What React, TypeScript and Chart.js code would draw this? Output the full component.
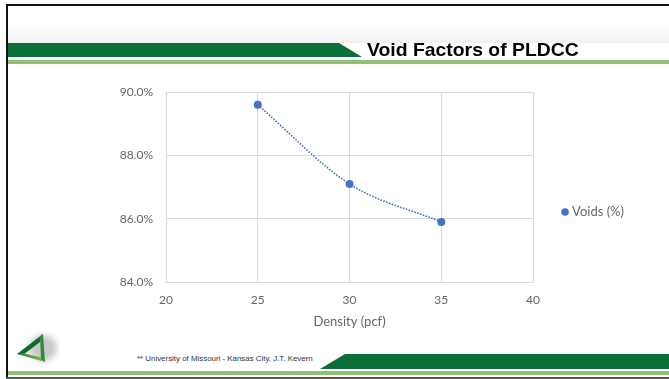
import React, { useEffect, useRef } from 'react';
import { Chart, registerables } from 'chart.js';

Chart.register(...registerables);

// ---- data ----
const densities = [25, 30, 35];
const voidsPct = [89.6, 87.1, 85.9];
const seriesLabel = 'Voids (%)';
const xTickValues = [20, 25, 30, 35, 40];
const yTickValues = [84, 86, 88, 90];
const slideTitle = 'Void Factors of PLDCC';
const xAxisTitle = 'Density (pcf)';
const footerText = '** University of Missouri - Kansas City, J.T. Kevern';

const BLUE = '#4472C4';
const GREY_TEXT = '#666666';
const GRID = '#d9d9d9';
const DARK_GREEN = '#0b6f3a';
const LIGHT_GREEN = '#93bf74';
const FONT = 'Lato, "Open Sans", sans-serif';

function ChartCanvas() {
  const ref = useRef<HTMLCanvasElement | null>(null);
  useEffect(() => {
    if (!ref.current) return;
    const chart = new Chart(ref.current, {
      type: 'scatter',
      data: {
        datasets: [
          {
            label: seriesLabel,
            data: densities.map((x, i) => ({ x, y: voidsPct[i] })),
            showLine: true,
            cubicInterpolationMode: 'monotone',
            borderColor: BLUE,
            borderWidth: 1.6,
            borderDash: [1.6, 1.4],
            backgroundColor: BLUE,
            pointRadius: 4,
            pointHoverRadius: 4,
            pointBackgroundColor: BLUE,
            pointBorderColor: BLUE,
            pointBorderWidth: 0,
          } as any,
        ],
      },
      options: {
        animation: false,
        responsive: false,
        maintainAspectRatio: false,
        layout: { padding: { top: 18, right: 35, bottom: 0, left: 0 } },
        plugins: {
          legend: {
            position: 'right',
            align: 'center',
            labels: {
              usePointStyle: true,
              pointStyle: 'circle',
              boxWidth: 1,
              boxHeight: 5.3,
              padding: 31.5,
              color: GREY_TEXT,
              font: { family: FONT, size: 13 },
              generateLabels: (c: any) =>
                (Chart.defaults.plugins.legend.labels as any)
                  .generateLabels(c)
                  .map((l: any) => ({ ...l, lineWidth: 0, lineDash: [], pointStyle: 'circle', fillStyle: BLUE })),
            },
          },
          tooltip: { enabled: false },
        },
        scales: {
          x: {
            type: 'linear',
            min: xTickValues[0],
            max: xTickValues[xTickValues.length - 1],
            afterBuildTicks: (s: any) => {
              s.ticks = xTickValues.map((v) => ({ value: v }));
            },
            ticks: { padding: 11, color: GREY_TEXT, font: { family: FONT, size: 12 } },
            grid: { color: GRID, drawTicks: false, lineWidth: 1 },
            border: { color: GRID },
            title: {
              display: true,
              text: xAxisTitle,
              color: GREY_TEXT,
              font: { family: FONT, size: 13 },
              padding: { top: 4, bottom: 4 },
            },
            afterFit: (s: any) => {
              s.height = 52;
            },
          },
          y: {
            type: 'linear',
            min: yTickValues[0],
            max: yTickValues[yTickValues.length - 1],
            afterBuildTicks: (s: any) => {
              s.ticks = yTickValues.map((v) => ({ value: v }));
            },
            ticks: {
              padding: 13,
              color: GREY_TEXT,
              font: { family: FONT, size: 12 },
              callback: (v: any) => Number(v).toFixed(1) + '%',
            },
            grid: { color: GRID, drawTicks: false, lineWidth: 1 },
            border: { color: GRID },
            afterFit: (s: any) => {
              s.width = 76;
            },
          },
        },
      },
    } as any);
    return () => chart.destroy();
  }, []);
  return (
    <canvas
      ref={ref}
      width={579}
      height={262}
      style={{ position: 'absolute', left: 90, top: 72, width: 579, height: 262 }}
    />
  );
}

function Logo() {
  return (
    <svg width={50} height={40} style={{ position: 'absolute', left: 10, top: 328 }} viewBox="0 0 50 40">
      <defs>
        <filter id="blur" x="-50%" y="-50%" width="200%" height="200%">
          <feGaussianBlur stdDeviation="3" />
        </filter>
        <linearGradient id="lg" x1="0" y1="0" x2="1" y2="0">
          <stop offset="0" stopColor="#1f7a3a" />
          <stop offset="1" stopColor="#8cc63f" />
        </linearGradient>
      </defs>
      <ellipse cx={33} cy={20} rx={14} ry={13} fill="#c8c8c8" filter="url(#blur)" />
      <polygon points="33,6 7,26 13,27 30,14" fill="#0d6b33" />
      <polygon points="7,26 35,34 34,30 12,25" fill="url(#lg)" />
      <polygon points="30,8 33,6 35,34 31,31" fill="#2e8b3e" />
    </svg>
  );
}

export default function App() {
  return (
    <div
      style={{
        position: 'absolute',
        left: 0,
        top: 0,
        width: 669,
        height: 379,
        overflow: 'hidden',
        background: '#ffffff',
        fontFamily: '"Liberation Sans", Arial, sans-serif',
      }}
    >
      {/* slide frame */}
      <div style={{ position: 'absolute', left: 6, top: 4, width: 669, height: 2, background: '#111' }} />
      <div style={{ position: 'absolute', left: 6, top: 4, width: 2, height: 375, background: '#111' }} />
      <div style={{ position: 'absolute', left: 6, top: 377, width: 669, height: 2, background: '#555' }} />
      {/* faint header shading */}
      <div
        style={{
          position: 'absolute',
          left: 8,
          top: 22,
          width: 661,
          height: 21,
          background: 'linear-gradient(to bottom, rgba(240,240,240,0), rgba(238,238,238,0.8))',
        }}
      />
      {/* header bar */}
      <svg width={669} height={24} style={{ position: 'absolute', left: 0, top: 42 }}>
        <polygon points="8,1 339,1 362,15 8,15" fill={DARK_GREEN} />
        <rect x={8} y={18} width={661} height={4} fill={LIGHT_GREEN} />
      </svg>
      <div
        style={{
          position: 'absolute',
          left: 367,
          top: 39,
          fontWeight: 'bold',
          fontSize: 19,
          lineHeight: '22px',
          color: '#000',
          whiteSpace: 'nowrap',
          transformOrigin: 'left top',
          transform: 'scaleX(1.02)',
        }}
      >
        {slideTitle}
      </div>

      <ChartCanvas />

      {/* footer */}
      <Logo />
      <div
        style={{
          position: 'absolute',
          left: 137,
          top: 354,
          fontSize: 7.9,
          lineHeight: '9px',
          color: '#333',
          whiteSpace: 'nowrap',
        }}
      >
        {footerText}
      </div>
      <svg width={669} height={24} style={{ position: 'absolute', left: 0, top: 353 }}>
        <polygon points="345,1 669,1 669,16 320,16" fill={DARK_GREEN} />
        <rect x={8} y={18} width={661} height={4} fill={LIGHT_GREEN} />
      </svg>
    </div>
  );
}
